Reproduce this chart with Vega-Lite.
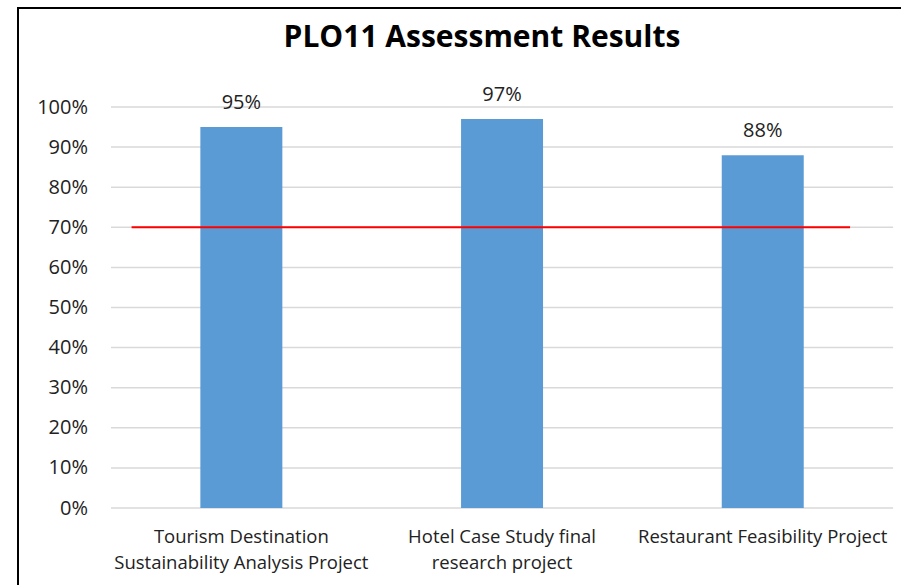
{
  "$schema": "https://vega.github.io/schema/vega-lite/v6.json",
  "autosize": "none",
  "padding": {"left": 18, "top": 8, "right": -3, "bottom": -3},
  "width": 886,
  "height": 580,
  "background": "#ffffff",
  "config": {
    "view": {"stroke": "#000000", "strokeWidth": 2},
    "axis": {"labelFont": "Open Sans", "labelFontSize": 18.5, "labelColor": "#222222"}
  },
  "datasets": {
    "results": [
      {"project": "Tourism Destination Sustainability Analysis Project", "score": 0.95},
      {"project": "Hotel Case Study final research project", "score": 0.97},
      {"project": "Restaurant Feasibility Project", "score": 0.88}
    ],
    "grid": [
      {"g": 0}, {"g": 0.1}, {"g": 0.2}, {"g": 0.3}, {"g": 0.4}, {"g": 0.5},
      {"g": 0.6}, {"g": 0.7}, {"g": 0.8}, {"g": 0.9}, {"g": 1.0}
    ],
    "target": [{"t": 0.7}],
    "heading": [{"label": "PLO11 Assessment Results"}]
  },
  "layer": [
    {
      "data": {"name": "grid"},
      "mark": {"type": "rule", "color": "#d9d9d9", "strokeWidth": 1.5},
      "encoding": {
        "x": {"datum": "Tourism Destination Sustainability Analysis Project", "type": "nominal", "bandPosition": 0, "title": null},
        "x2": {"datum": "Restaurant Feasibility Project", "bandPosition": 1},
        "y": {"field": "g", "type": "quantitative", "title": null}
      }
    },
    {
      "data": {"name": "results"},
      "mark": {"type": "bar", "color": "#5b9bd5", "width": {"band": 0.3145}},
      "encoding": {
        "x": {
          "field": "project",
          "type": "nominal",
          "sort": null,
          "title": null,
          "scale": {
            "domain": [
              "Tourism Destination Sustainability Analysis Project",
              "Hotel Case Study final research project",
              "Restaurant Feasibility Project"
            ],
            "paddingInner": 0,
            "paddingOuter": 0.1993,
            "align": 0.895
          },
          "axis": {
            "orient": "bottom",
            "offset": -80,
            "labelPadding": 34.7,
            "labelBaseline": "alphabetic",
            "labelAlign": "center",
            "labelLineHeight": 25.5,
            "labelAngle": 0,
            "labelLimit": 0,
            "labelOverlap": false,
            "ticks": false,
            "domain": false,
            "grid": false,
            "labelExpr": "datum.value == 'Tourism Destination Sustainability Analysis Project' ? ['Tourism Destination', 'Sustainability Analysis Project'] : datum.value == 'Hotel Case Study final research project' ? ['Hotel Case Study final', 'research project'] : datum.label"
          }
        },
        "y": {
          "field": "score",
          "type": "quantitative",
          "title": null,
          "scale": {"domain": [-0.1995, 1.2469], "nice": false, "zero": false},
          "axis": {
            "values": [0, 0.1, 0.2, 0.3, 0.4, 0.5, 0.6, 0.7, 0.8, 0.9, 1.0],
            "format": ".0%",
            "offset": -69.5,
            "labelPadding": 0,
            "labelFontSize": 20,
            "ticks": false,
            "tickSize": 0,
            "domain": false,
            "grid": false
          }
        }
      }
    },
    {
      "data": {"name": "results"},
      "mark": {"type": "text", "font": "Open Sans", "fontSize": 20, "color": "#222222", "baseline": "alphabetic", "dy": -18.5},
      "encoding": {
        "x": {"field": "project", "type": "nominal", "sort": null, "title": null},
        "y": {"field": "score", "type": "quantitative", "title": null},
        "text": {"field": "score", "type": "quantitative", "format": ".0%"}
      }
    },
    {
      "data": {"name": "target"},
      "mark": {"type": "rule", "color": "#ff0000", "strokeWidth": 2},
      "encoding": {
        "x": {"datum": "Tourism Destination Sustainability Analysis Project", "type": "nominal", "bandPosition": 0.079, "title": null},
        "x2": {"datum": "Restaurant Feasibility Project", "bandPosition": 0.835},
        "y": {"field": "t", "type": "quantitative", "title": null}
      }
    },
    {
      "data": {"name": "heading"},
      "mark": {"type": "text", "font": "Open Sans", "fontSize": 30, "fontWeight": "bold", "color": "#000000", "align": "center", "baseline": "alphabetic"},
      "encoding": {
        "x": {"datum": "Hotel Case Study final research project", "type": "nominal", "bandPosition": 0.423, "title": null},
        "y": {"datum": 1.15, "type": "quantitative", "title": null},
        "text": {"field": "label", "type": "nominal"}
      }
    }
  ]
}
